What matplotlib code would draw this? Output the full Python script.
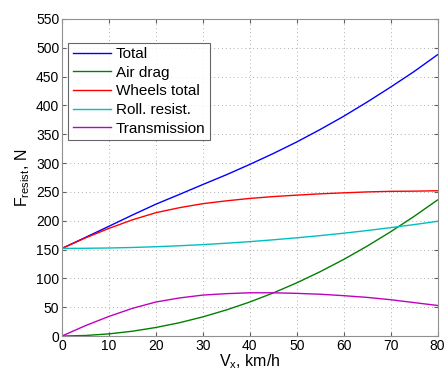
import matplotlib
matplotlib.use("Agg")
import matplotlib.pyplot as plt

plt.rcParams['font.family'] = ['Liberation Sans', 'DejaVu Sans']
plt.rcParams['mathtext.fontset'] = 'custom'
plt.rcParams['mathtext.rm'] = 'Liberation Sans'
plt.rcParams['mathtext.it'] = 'Liberation Sans'

speed = [0, 5, 10, 15, 20, 25, 30, 35, 40, 45, 50, 55, 60, 65, 70, 75, 80]
total = [152, 171.1, 190.4, 209.9, 228.7, 245.6, 262.8, 279.7, 297.7, 316.6,
         336.6, 358.3, 381.2, 405.9, 431.8, 458.8, 488]
air_drag = [0, 0.9, 3.7, 8.3, 14.8, 23, 33.2, 45.2, 59, 74.7, 92.2, 111.6,
            132.8, 155.9, 180.8, 207.5, 236]
wheels = [152, 170.2, 186.7, 201.6, 213.9, 222.6, 229.6, 234.5, 238.7, 241.9,
          244.4, 246.7, 248.4, 250, 251, 251.3, 252]
roll = [152.0, 152.2, 152.7, 153.6, 154.9, 156.6, 158.6, 161.0, 163.7, 166.9,
        170.4, 174.2, 178.4, 183.0, 188.0, 193.3, 199.0]
transmission = [0, 18, 34, 48, 59, 66, 71, 73.5, 75, 75, 74, 72.5, 70, 67, 63,
                58, 53]

labels = ['Total', 'Air drag', 'Wheels total', 'Roll. resist.', 'Transmission']
colors = ['#0000ff', '#008000', '#ff0000', '#00bfbf', '#bf00bf']
series = [total, air_drag, wheels, roll, transmission]

fig = plt.figure(figsize=(4.46, 3.71), dpi=100)
ax = fig.add_axes([0.139, 0.0943, 0.842, 0.8545])

for s, c, l in zip(series, colors, labels):
    ax.plot(speed, s, color=c, lw=1.0, label=l)

ax.set_xlim(0, 80)
ax.set_ylim(0, 550)
ax.set_xticks(range(0, 81, 10))
ax.set_yticks(range(0, 551, 50))
ax.grid(True, linestyle=(0, (1, 3)), color='#b0b0b0', linewidth=0.7)
ax.tick_params(direction='in', length=3, labelsize=10, color='#606060',
               top=True, right=True, pad=2)
for sp in ax.spines.values():
    sp.set_color('#909090')
    sp.set_linewidth(0.8)

ax.set_xlabel(r'V$_\mathrm{x}$, km/h', fontsize=11.5, labelpad=0)
ax.set_ylabel(r'F$_\mathrm{resist}$, N', fontsize=11.5, labelpad=3)

leg = ax.legend(loc='upper left', bbox_to_anchor=(0.005, 0.94), fontsize=11,
                frameon=True, fancybox=False, edgecolor='#404040',
                handlelength=2.5, handletextpad=0.3, borderpad=0.3,
                labelspacing=0.3, borderaxespad=0.3)
leg.get_frame().set_linewidth(0.8)

fig.savefig('out.png', dpi=100)
